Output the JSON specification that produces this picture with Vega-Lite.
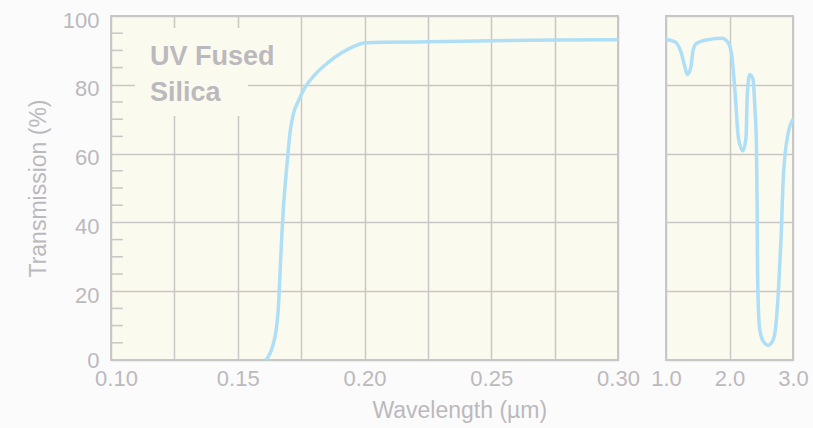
{
  "$schema": "https://vega.github.io/schema/vega-lite/v6.json",
  "background": "#fbfbfb",
  "padding": {"left": 26, "top": 8, "right": 5, "bottom": 5},
  "bounds": "flush",
  "spacing": 48,
  "config": {
    "view": {"fill": "#fbfaee", "stroke": "#c9c7c5", "strokeWidth": 2},
    "axis": {
      "domain": false,
      "ticks": false,
      "grid": true,
      "gridColor": "#c9c7c5",
      "gridWidth": 1.5,
      "labelColor": "#bbb9bd",
      "labelFont": "Liberation Sans",
      "labelFontSize": 22,
      "labelOverlap": false,
      "labelFlush": false,
      "titleColor": "#bbb9bd",
      "titleFont": "Liberation Sans",
      "titleFontSize": 23,
      "titleFontWeight": "normal"
    }
  },
  "title": {
    "text": "Wavelength (µm)",
    "orient": "bottom",
    "anchor": "middle",
    "font": "Liberation Sans",
    "fontSize": 23,
    "fontWeight": "normal",
    "color": "#bbb9bd",
    "offset": 10,
    "dx": 42
  },
  "datasets": {
    "uv": [
      {"w": 0.1611, "t": 0},
      {"w": 0.1640, "t": 4.6},
      {"w": 0.1652, "t": 9.0},
      {"w": 0.1660, "t": 15.0},
      {"w": 0.1666, "t": 24.0},
      {"w": 0.1673, "t": 35.0},
      {"w": 0.1680, "t": 44.3},
      {"w": 0.1686, "t": 50.0},
      {"w": 0.1695, "t": 57.5},
      {"w": 0.1706, "t": 66.0},
      {"w": 0.1719, "t": 71.4},
      {"w": 0.1739, "t": 75.3},
      {"w": 0.1765, "t": 79.2},
      {"w": 0.1805, "t": 83.0},
      {"w": 0.1857, "t": 86.5},
      {"w": 0.1910, "t": 89.3},
      {"w": 0.1963, "t": 91.3},
      {"w": 0.2002, "t": 92.2},
      {"w": 0.2081, "t": 92.4},
      {"w": 0.2250, "t": 92.5},
      {"w": 0.2500, "t": 92.8},
      {"w": 0.2750, "t": 93.0},
      {"w": 0.3000, "t": 93.1}
    ],
    "ir": [
      {"w": 1.0, "t": 93.2},
      {"w": 1.14, "t": 92.5},
      {"w": 1.24, "t": 89.3},
      {"w": 1.30, "t": 85.0},
      {"w": 1.335, "t": 83.0},
      {"w": 1.39, "t": 85.0},
      {"w": 1.43, "t": 90.3},
      {"w": 1.48, "t": 92.0},
      {"w": 1.69, "t": 93.2},
      {"w": 1.88, "t": 93.5},
      {"w": 1.98, "t": 92.2},
      {"w": 2.04, "t": 87.9},
      {"w": 2.09, "t": 77.2},
      {"w": 2.14, "t": 64.6},
      {"w": 2.21, "t": 60.8},
      {"w": 2.26, "t": 64.6},
      {"w": 2.28, "t": 77.2},
      {"w": 2.32, "t": 83.0},
      {"w": 2.37, "t": 81.6},
      {"w": 2.40, "t": 73.3},
      {"w": 2.425, "t": 62.0},
      {"w": 2.435, "t": 45.0},
      {"w": 2.44, "t": 30.0},
      {"w": 2.45, "t": 18.0},
      {"w": 2.475, "t": 9.0},
      {"w": 2.53, "t": 5.5},
      {"w": 2.61, "t": 4.3},
      {"w": 2.69, "t": 6.0},
      {"w": 2.72, "t": 8.4},
      {"w": 2.77, "t": 20.0},
      {"w": 2.81, "t": 34.6},
      {"w": 2.85, "t": 54.0},
      {"w": 2.87, "t": 58.8},
      {"w": 2.92, "t": 65.6},
      {"w": 3.0, "t": 70.0}
    ],
    "minor": [
      {"t": 5}, {"t": 10}, {"t": 15}, {"t": 25}, {"t": 30}, {"t": 35},
      {"t": 45}, {"t": 50}, {"t": 55}, {"t": 65}, {"t": 70}, {"t": 75},
      {"t": 85}, {"t": 90}, {"t": 95}
    ],
    "label": [
      {"text": ["UV Fused", "Silica"]}
    ]
  },
  "hconcat": [
    {
      "width": 507,
      "height": 344,
      "encoding": {
        "x": {
          "type": "quantitative",
          "scale": {"domain": [0.1, 0.3], "nice": false, "zero": false},
          "axis": {
            "title": null,
            "values": [0.1, 0.125, 0.15, 0.175, 0.2, 0.225, 0.25, 0.275, 0.3],
            "labelExpr": "indexof(['0.10','0.15','0.20','0.25','0.30'], format(datum.value, '.2f')) >= 0 ? format(datum.value, '.2f') : ''",
            "labelPadding": 8,
            "labelOffset": {"condition": {"test": "datum.value < 0.11", "value": 5}, "value": 0}
          }
        },
        "y": {
          "type": "quantitative",
          "scale": {"domain": [0, 100], "nice": false},
          "axis": {
            "title": "Transmission (%)",
            "values": [0, 20, 40, 60, 80, 100],
            "labelPadding": 12,
            "titlePadding": 12,
            "labelOffset": {"condition": {"test": "datum.value == 0", "value": 0}, "value": 4}
          }
        }
      },
      "layer": [
        {
          "data": {"name": "label"},
          "mark": {"type": "rect", "color": "#fbfaee"},
          "encoding": {
            "x": {"datum": 0.1095},
            "x2": {"datum": 0.154},
            "y": {"datum": 70.9},
            "y2": {"datum": 96.5}
          }
        },
        {
          "data": {"name": "minor"},
          "mark": {"type": "rule", "color": "#c9c7c5", "strokeWidth": 1.5},
          "encoding": {
            "x": {"datum": 0.1},
            "x2": {"datum": 0.1047},
            "y": {"field": "t"}
          }
        },
        {
          "data": {"name": "label"},
          "mark": {
            "type": "text",
            "align": "left",
            "baseline": "top",
            "font": "Liberation Sans",
            "fontSize": 27,
            "fontWeight": "bold",
            "color": "#bbb9bd",
            "lineHeight": 36
          },
          "encoding": {
            "x": {"datum": 0.1154},
            "y": {"datum": 92.0},
            "text": {"field": "text"}
          }
        },
        {
          "data": {"name": "uv"},
          "mark": {"type": "line", "interpolate": "monotone", "color": "#aedff6", "strokeWidth": 3.5},
          "encoding": {
            "x": {"field": "w"},
            "y": {"field": "t"}
          }
        }
      ]
    },
    {
      "width": 127,
      "height": 344,
      "data": {"name": "ir"},
      "mark": {"type": "line", "interpolate": "monotone", "color": "#aedff6", "strokeWidth": 3.5},
      "encoding": {
        "x": {
          "field": "w",
          "type": "quantitative",
          "scale": {"domain": [1, 3], "nice": false, "zero": false},
          "axis": {
            "title": null,
            "values": [1, 2, 3],
            "format": ".1f",
            "labelPadding": 8
          }
        },
        "y": {
          "field": "t",
          "type": "quantitative",
          "scale": {"domain": [0, 100], "nice": false},
          "axis": {
            "title": null,
            "values": [0, 20, 40, 60, 80, 100],
            "labels": false
          }
        }
      }
    }
  ]
}
